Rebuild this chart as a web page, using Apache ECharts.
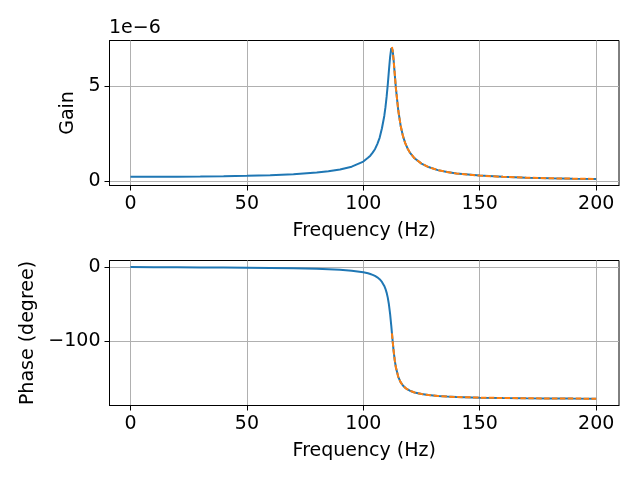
<!DOCTYPE html>
<html>
<head>
<meta charset="utf-8">
<script src="https://cdn.jsdelivr.net/npm/echarts@6/dist/echarts.min.js"></script>
<style>
  html, body { margin: 0; padding: 0; background: #fff; }
  #chart { width: 640px; height: 480px; }
</style>
</head>
<body>
<div id="chart"></div>
<script>
// frequency response
const freqHz = [0, 10, 20, 30, 40, 50, 60, 70, 80, 85, 90, 95, 100, 102, 103, 104, 105, 106, 107, 108, 109,
  109.5, 110, 110.5, 111, 111.5, 112, 112.3, 112.6, 113, 113.5, 114, 115, 116, 117, 118, 119, 120, 122, 125,
  128, 132, 136, 140, 150, 160, 170, 180, 190, 200];
// gain in units of 1e-6
const gainE6 = [0.25, 0.25, 0.255, 0.265, 0.28, 0.30, 0.335, 0.385, 0.47, 0.54, 0.63, 0.78, 1.05, 1.25, 1.36,
  1.52, 1.70, 1.97, 2.30, 2.80, 3.45, 3.90, 4.45, 5.10, 5.85, 6.55, 7.02, 7.08, 6.90, 6.40, 5.65, 4.90, 3.75,
  2.95, 2.40, 2.02, 1.74, 1.52, 1.22, 0.94, 0.76, 0.60, 0.50, 0.42, 0.31, 0.245, 0.20, 0.17, 0.15, 0.135];
const phaseDeg = [0, -0.15, -0.30, -0.47, -0.67, -0.91, -1.22, -1.67, -2.37, -2.90, -3.66, -4.86, -7.01,
  -8.43, -9.37, -10.53, -11.99, -13.89, -16.45, -20.09, -25.59, -29.50, -34.61, -41.48, -50.82, -63.43,
  -79.40, -90, -100.58, -113.50, -126.66, -136.45, -148.98, -156.22, -160.79, -163.91, -166.16, -167.85,
  -170.23, -172.42, -173.79, -174.97, -175.76, -176.32, -177.21, -177.74, -178.08, -178.33, -178.51, -178.66];
// the dashed curve covers the part above resonance
const resonanceHz = 112.3;

const freqTicks = [0, 50, 100, 150, 200];
const gainTicks = [0, 5];
const phaseTicks = [-100, 0];

const font = "DejaVu Sans";
const blue = "#1f77b4";
const orange = "#ff7f0e";

function pairs(ys, fromHz) {
  return freqHz.map((f, i) => [f, ys[i]]).filter((p) => p[0] >= fromHz);
}

function xAxis(gridIndex) {
  return {
    type: "value", gridIndex, min: -9, max: 209.8,
    name: "Frequency (Hz)", nameLocation: "middle", nameGap: 36,
    nameTextStyle: { fontFamily: font, fontSize: 19, color: "#000" },
    axisLine: { show: true, onZero: false, lineStyle: { color: "#000", width: 1 } },
    axisTick: { show: true, length: 5, customValues: freqTicks, lineStyle: { color: "#000" } },
    axisLabel: { customValues: freqTicks, margin: 9, fontFamily: font, fontSize: 19, color: "#000" },
    splitLine: { show: true, customValues: freqTicks, lineStyle: { color: "#b0b0b0", width: 1 } }
  };
}

function yAxis(gridIndex, min, max, ticks, name, gap) {
  return {
    type: "value", gridIndex, min, max,
    name, nameLocation: "middle", nameGap: gap, nameRotate: 90,
    nameTextStyle: { fontFamily: font, fontSize: 19, color: "#000" },
    axisLine: { show: true, onZero: false, lineStyle: { color: "#000", width: 1 } },
    axisTick: { show: true, length: 5, customValues: ticks, lineStyle: { color: "#000" } },
    axisLabel: {
      customValues: ticks, margin: 9, fontFamily: font, fontSize: 19, color: "#000",
      formatter: (v) => String(Math.round(v)).replace("-", "\u2212")
    },
    splitLine: { show: true, customValues: ticks, lineStyle: { color: "#b0b0b0", width: 1 } }
  };
}

const chart = echarts.init(document.getElementById("chart"), null, { renderer: "canvas" });
chart.setOption({
  animation: false,
  backgroundColor: "#fff",
  grid: [
    { left: 109.5, top: 40.5, width: 509.5, height: 145, show: true, borderColor: "#000", borderWidth: 1 },
    { left: 109.5, top: 260.5, width: 509.5, height: 145, show: true, borderColor: "#000", borderWidth: 1 }
  ],
  graphic: [
    { type: "text", left: 109, top: 19, style: { text: "1e\u22126", fontFamily: font, fontSize: 19, fill: "#000" } }
  ],
  xAxis: [xAxis(0), xAxis(1)],
  yAxis: [
    yAxis(0, -0.21, 7.42, gainTicks, "Gain", 27),
    yAxis(1, -187.9, 8.95, phaseTicks, "Phase (degree)", 67)
  ],
  series: [
    { type: "line", xAxisIndex: 0, yAxisIndex: 0, data: pairs(gainE6, -1), showSymbol: false,
      lineStyle: { color: blue, width: 2 } },
    { type: "line", xAxisIndex: 0, yAxisIndex: 0, data: pairs(gainE6, resonanceHz), showSymbol: false,
      lineStyle: { color: orange, width: 2, type: [5.5, 2.4] } },
    { type: "line", xAxisIndex: 1, yAxisIndex: 1, data: pairs(phaseDeg, -1), showSymbol: false,
      lineStyle: { color: blue, width: 2 } },
    { type: "line", xAxisIndex: 1, yAxisIndex: 1, data: pairs(phaseDeg, resonanceHz), showSymbol: false,
      lineStyle: { color: orange, width: 2, type: [5.5, 2.4] } }
  ]
});
</script>
</body>
</html>
